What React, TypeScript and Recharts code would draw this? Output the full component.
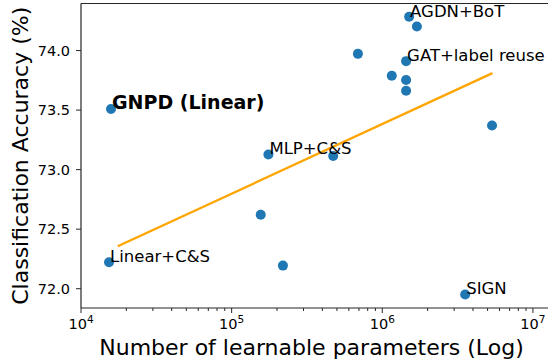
import React from 'react';
import { ScatterChart, Scatter, XAxis, YAxis, ReferenceLine, Label } from 'recharts';

const params = [1.582e4, 1.535e4, 1.754e5, 4.72e5, 1.56e5, 2.19e5, 3.55e6, 1.507e6, 1.697e6, 6.89e5, 1.439e6, 1.156e6, 1.439e6, 1.439e6, 5.35e6];
const accuracy = [73.509, 72.222, 73.127, 73.115, 72.621, 72.194, 71.952, 74.284, 74.202, 73.972, 73.911, 73.789, 73.753, 73.663, 73.371];
const names = ['GNPD (Linear)', 'Linear+C&S', 'MLP+C&S', '', '', '', 'SIGN', 'AGDN+BoT', '', '', 'GAT+label reuse', '', '', '', ''];
const boldNames = ['GNPD (Linear)'];

const fitParams = [1.753e4, 5.39e6];
const fitAccuracy = [72.356, 73.81];

const xMajorTicks = [1e4, 1e5, 1e6, 1e7];
const xMinorMultipliers = [2, 3, 4, 5, 6, 7, 8, 9];
const yTicks = [72.0, 72.5, 73.0, 73.5, 74.0];
const xDomain = [1e4, Math.pow(10, 7.1)];
const yDomain = [71.838, 74.395];

const points = params.map((p, i) => ({ x: p, y: accuracy[i], label: names[i] }));
const labeled = points.filter((d) => d.label !== '');
const fitLine = fitParams.map((p, i) => ({ x: p, y: fitAccuracy[i] }));

const xTicks: number[] = [];
xMajorTicks.forEach((m) => {
  xTicks.push(m);
  xMinorMultipliers.forEach((k) => {
    const v = m * k;
    if (v <= xDomain[1]) xTicks.push(v);
  });
});

const FONT = '"DejaVu Sans", sans-serif';
const SPINE = '#262626';

const XTick = (props: any) => {
  const { x, y, payload } = props;
  const v = payload.value;
  const lg = Math.log10(v);
  const exp = Math.round(lg);
  const major = Math.abs(lg - exp) < 1e-6;
  return (
    <g>
      <line x1={x} x2={x} y1={y} y2={y + (major ? 5 : 3)} stroke={SPINE} strokeWidth={1} />
      {major && (
        <text x={x} y={y + 20.5} textAnchor="middle" fontSize={14.5} fontFamily={FONT} fill="#000">
          10
          <tspan dy={-6} fontSize={10.5}>{exp}</tspan>
        </text>
      )}
    </g>
  );
};

const Dot = (props: any) => {
  const { cx, cy } = props;
  return <circle cx={cx} cy={cy} r={5} fill="#1f77b4" />;
};

const NoDot = () => <g />;

const TextMark = (props: any) => {
  const { cx, cy, payload } = props;
  const bold = boldNames.includes(payload.label);
  return (
    <text
      x={cx + 1}
      y={cy}
      fontSize={bold ? 19 : 16.5}
      fontWeight={bold ? 'bold' : 'normal'}
      fontFamily={FONT}
      fill="#000"
    >
      {payload.label}
    </text>
  );
};

export default function App() {
  return (
    <div style={{ position: 'absolute', left: 0, top: 0, background: '#fff' }}>
      <ScatterChart width={548} height={362} margin={{ top: 3.5, right: 0, bottom: 0, left: 0 }}>
        <XAxis
          type="number"
          dataKey="x"
          scale="log"
          domain={xDomain}
          allowDataOverflow
          ticks={xTicks}
          interval={0}
          tickSize={0}
          tickMargin={0}
          tickLine={false}
          tick={<XTick />}
          axisLine={{ stroke: SPINE, strokeWidth: 1.2 }}
          height={54}
          label={
            <Label
              content={(p: any) => {
                const vb = p.viewBox;
                return (
                  <text
                    x={vb.x + vb.width / 2 - 3}
                    y={vb.y + 46.5}
                    textAnchor="middle"
                    fontSize={22}
                    fontFamily={FONT}
                    fill="#000"
                  >
                    Number of learnable parameters (Log)
                  </text>
                );
              }}
            />
          }
        />
        <YAxis
          type="number"
          dataKey="y"
          domain={yDomain}
          allowDataOverflow
          ticks={yTicks}
          interval={0}
          width={81}
          tickSize={5}
          tickMargin={6}
          tickFormatter={(v: number) => v.toFixed(1)}
          tick={{ fontSize: 14.5, fontFamily: FONT, fill: '#000' }}
          tickLine={{ stroke: SPINE, strokeWidth: 1 }}
          axisLine={{ stroke: SPINE, strokeWidth: 1.2 }}
          label={
            <Label
              content={(p: any) => {
                const vb = p.viewBox;
                const cy = vb.y + vb.height / 2;
                return (
                  <text
                    x={28}
                    y={cy}
                    transform={`rotate(-90, 28, ${cy})`}
                    textAnchor="middle"
                    fontSize={22}
                    fontFamily={FONT}
                    fill="#000"
                  >
                    Classification Accuracy (%)
                  </text>
                );
              }}
            />
          }
        />
        <ReferenceLine y={yDomain[1]} stroke={SPINE} strokeWidth={1.2} />
        <Scatter data={points} shape={<Dot />} isAnimationActive={false} />
        <Scatter
          data={fitLine}
          line={{ stroke: '#FFA500', strokeWidth: 2.3 }}
          lineType="joint"
          shape={<NoDot />}
          isAnimationActive={false}
        />
        <Scatter data={labeled} shape={<TextMark />} isAnimationActive={false} />
      </ScatterChart>
    </div>
  );
}
